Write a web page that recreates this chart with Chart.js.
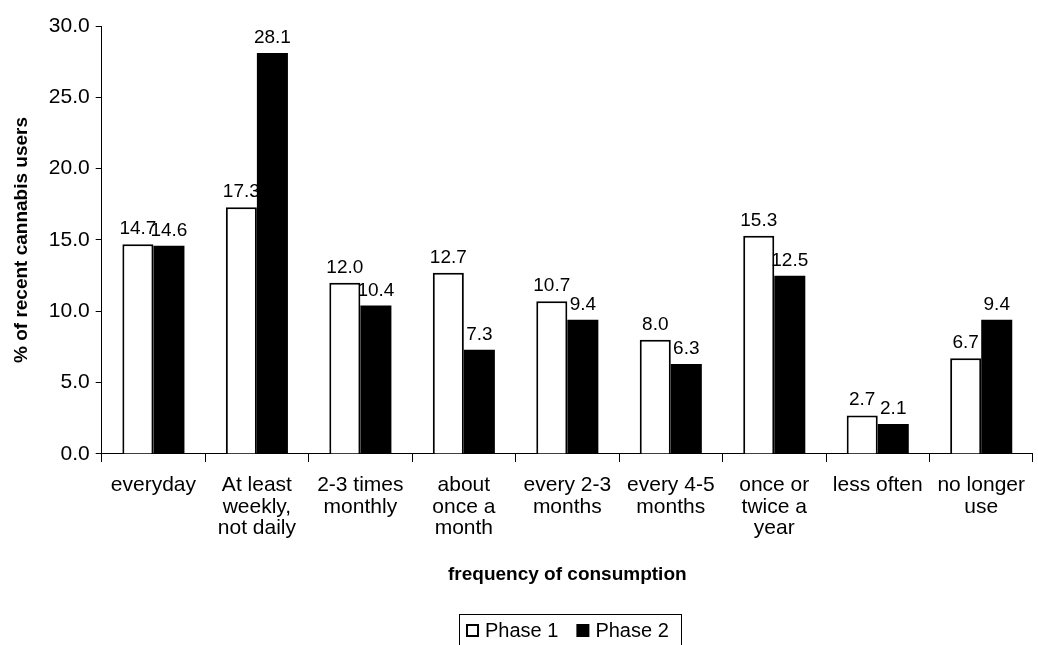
<!DOCTYPE html>
<html lang="en">
<head>
<meta charset="UTF-8">
<title>Frequency of consumption</title>
<script src="https://cdn.jsdelivr.net/npm/chart.js"></script>
<style>
  html, body { margin: 0; padding: 0; background: #fff; }
  #wrap { width: 1038px; height: 645px; }
</style>
</head>
<body>
<div id="wrap"><canvas id="chart"></canvas></div>
<script>
// categories and values
const categories = [
  'everyday',
  ['At least', 'weekly,', 'not daily'],
  ['2-3 times', 'monthly'],
  ['about', 'once a', 'month'],
  ['every 2-3', 'months'],
  ['every 4-5', 'months'],
  ['once or', 'twice a', 'year'],
  'less often',
  ['no longer', 'use']
];
const phase1 = [14.7, 17.3, 12.0, 12.7, 10.7, 8.0, 15.3, 2.7, 6.7];
const phase2 = [14.6, 28.1, 10.4, 7.3, 9.4, 6.3, 12.5, 2.1, 9.4];

const FONT = 'Liberation Sans, Arial, sans-serif';

// draws the value above every bar
const valueLabels = {
  id: 'valueLabels',
  afterDatasetsDraw(chart) {
    const ctx = chart.ctx;
    ctx.save();
    ctx.font = '19px ' + FONT;
    ctx.fillStyle = '#000';
    ctx.textAlign = 'center';
    ctx.textBaseline = 'alphabetic';
    chart.data.datasets.forEach((ds, i) => {
      chart.getDatasetMeta(i).data.forEach((bar, j) => {
        ctx.fillText(ds.data[j].toFixed(1), bar.x, bar.y - 10);
      });
    });
    ctx.restore();
  }
};

// framed legend centred under the plot area, as in the Excel original
const boxedLegend = {
  id: 'boxedLegend',
  afterDraw(chart) {
    const ctx = chart.ctx;
    const sets = chart.data.datasets;
    const box = 13, gap = 6, sep = 18, cy = 630;
    ctx.save();
    ctx.font = '20px ' + FONT;
    ctx.textBaseline = 'middle';
    const widths = sets.map(ds => box + gap + ctx.measureText(ds.label).width);
    const total = widths.reduce((a, b) => a + b, 0) + sep * (sets.length - 1);
    const mid = (chart.chartArea.left + chart.chartArea.right) / 2;
    let x = Math.round(mid - total / 2);
    ctx.strokeStyle = '#000';
    ctx.lineWidth = 1;
    ctx.strokeRect(x - 7 + 0.5, 614.5, Math.round(total + 19), 40);
    sets.forEach((ds, i) => {
      const top = Math.round(cy - box / 2);
      ctx.fillStyle = ds.backgroundColor;
      ctx.fillRect(x, top, box, box);
      if (ds.borderWidth) {
        ctx.lineWidth = ds.borderWidth;
        ctx.strokeStyle = ds.borderColor;
        ctx.strokeRect(x + 1, top + 1, box - 2, box - 2);
      }
      ctx.fillStyle = '#000';
      ctx.fillText(ds.label, x + box + gap, cy + 1);
      x += widths[i] + sep;
    });
    ctx.restore();
  }
};

new Chart(document.getElementById('chart'), {
  type: 'bar',
  data: {
    labels: categories,
    datasets: [
      {
        label: 'Phase 1',
        data: phase1,
        backgroundColor: '#fff',
        borderColor: '#000',
        borderWidth: 2
      },
      {
        label: 'Phase 2',
        data: phase2,
        backgroundColor: '#000',
        borderColor: '#000',
        borderWidth: 0
      }
    ]
  },
  options: {
    responsive: true,
    maintainAspectRatio: false,
    animation: false,
    datasets: {
      bar: { categoryPercentage: 0.6, barPercentage: 1.0 }
    },
    layout: { padding: { top: 26, right: 0, left: 6, bottom: 50 } },
    plugins: {
      tooltip: { enabled: false },
      legend: { display: false }
    },
    scales: {
      x: {
        grid: {
          display: true,
          offset: true,
          drawOnChartArea: false,
          drawTicks: true,
          tickLength: 8,
          color: '#000'
        },
        border: { display: true, color: '#000', width: 1 },
        ticks: {
          color: '#000',
          font: { family: FONT, size: 21, lineHeight: 1.02 },
          maxRotation: 0,
          autoSkip: false,
          padding: 13
        },
        title: {
          display: true,
          text: 'frequency of consumption',
          color: '#000',
          font: { family: FONT, size: 19, weight: 'bold' },
          padding: { top: 11, bottom: 9 }
        }
      },
      y: {
        min: 0,
        max: 30,
        grid: {
          display: true,
          drawOnChartArea: false,
          drawTicks: true,
          tickLength: 6,
          color: '#000'
        },
        border: { display: true, color: '#000', width: 1 },
        ticks: {
          stepSize: 5,
          color: '#000',
          font: { family: FONT, size: 21 },
          padding: 6,
          callback: v => v.toFixed(1)
        },
        title: {
          display: true,
          text: '% of recent cannabis users',
          color: '#000',
          font: { family: FONT, size: 19, weight: 'bold' },
          padding: { bottom: 10 }
        }
      }
    }
  },
  plugins: [valueLabels, boxedLegend]
});
</script>
</body>
</html>
